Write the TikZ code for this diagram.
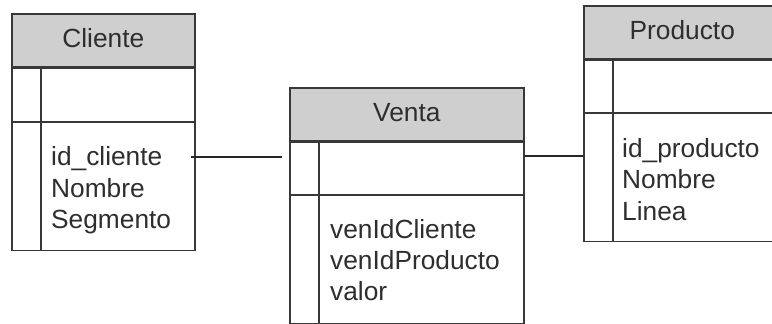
\documentclass[tikz,border=0pt]{standalone}
\usepackage{fontspec}
\setmainfont{Liberation Sans}
\definecolor{edge}{HTML}{383838}
\definecolor{hdrfill}{HTML}{CFCFCF}
\definecolor{ink}{HTML}{2E2E2E}
\begin{document}
\begin{tikzpicture}[x=1pt,y=-1pt,
  every node/.style={font=\fontsize{26.3}{31}\selectfont, text=ink},
  hdr/.style={draw=edge, line width=1.6pt, fill=hdrfill, anchor=north west,
    inner sep=0pt, text height=19pt, text depth=4pt},
  body/.style={draw=edge, line width=1.6pt, fill=white, anchor=north west, inner sep=0pt},
  rule/.style={draw=edge, line width=1.6pt},
  attr/.style={anchor=base west, inner sep=0pt},
  link/.style={draw=black!85, line width=2.6pt}
]
\useasboundingbox (0,0) rectangle (772,324);
\clip (0,0) rectangle (772,324);

% ---- Cliente table ----
\node[hdr, minimum width=183pt, minimum height=53pt] (cli) at (11,13) {Cliente};
\node[body, minimum width=183pt, minimum height=182pt] (clib) at (cli.south west) {};
\draw[rule] (clib.west |- 0,122) -- (clib.east |- 0,122);
\draw[rule] (41,0 |- clib.north) -- (41,0 |- clib.south);
\node[attr] (cli1) at (51,165) {id\_cliente};
\node[attr] (cli2) at (51,197) {Nombre};
\node[attr] (cli3) at (51,228) {Segmento};

% ---- Venta table ----
\node[hdr, minimum width=234pt, minimum height=53pt] (ven) at (289,87) {Venta};
\node[body, minimum width=234pt, minimum height=181pt] (venb) at (ven.south west) {};
\draw[rule] (venb.west |- 0,195) -- (venb.east |- 0,195);
\draw[rule] (319,0 |- venb.north) -- (319,0 |- venb.south);
\node[attr] (ven1) at (330,238) {venIdCliente};
\node[attr] (ven2) at (330,269) {venIdProducto};
\node[attr] (ven3) at (330,300) {valor};

% ---- Producto table ----
\node[hdr, minimum width=197pt, minimum height=53pt] (pro) at (583,5) {Producto};
\node[body, minimum width=197pt, minimum height=181pt] (prob) at (pro.south west) {};
\draw[rule] (prob.west |- 0,113) -- (prob.east |- 0,113);
\draw[rule] (613,0 |- prob.north) -- (613,0 |- prob.south);
\node[attr] (pro1) at (622,157) {id\_producto};
\node[attr] (pro2) at (622,188) {Nombre};
\node[attr] (pro3) at (622,220) {Linea};

% ---- relationships ----
\coordinate (k1) at (0,157);
\coordinate (k2) at (0,156);
\draw[link] ([xshift=-5pt]clib.east |- k1) -- ([xshift=-7pt]venb.west |- k1);
\draw[link] (venb.east |- k2) -- (prob.west |- k2);
\end{tikzpicture}
\end{document}
